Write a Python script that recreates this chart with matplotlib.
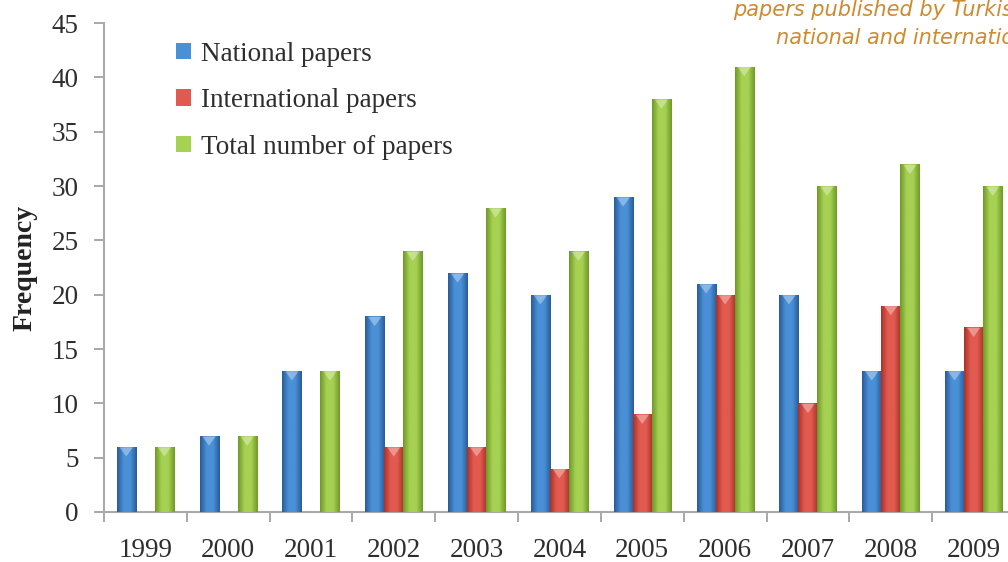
import matplotlib
matplotlib.use("Agg")
import matplotlib.pyplot as plt
from matplotlib.colors import LinearSegmentedColormap
import numpy as np

years = ['1999', '2000', '2001', '2002', '2003', '2004', '2005', '2006', '2007', '2008', '2009']
national = [6, 7, 13, 18, 22, 20, 29, 21, 20, 13, 13]
international = [0, 0, 0, 6, 6, 4, 9, 20, 10, 19, 17]
total = [6, 7, 13, 24, 28, 24, 38, 41, 30, 32, 30]
labels = ['National papers', 'International papers', 'Total number of papers']

# (dark edge, light centre) for the cylinder look
shades = [('#2a5c98', '#4a90d6'), ('#a8322b', '#e25a4f'), ('#6f9828', '#a6d152')]

fig = plt.figure(figsize=(10.08, 5.62), dpi=100)
ax = fig.add_axes([0.103, 0.089, 0.904, 0.87])

x = np.arange(len(years))
w = 0.23
grad = np.linspace(0, 1, 64).reshape(1, -1)
for i, (vals, lab, (dark, light)) in enumerate(zip([national, international, total], labels, shades)):
    bars = ax.bar(x + (i - 1) * w, vals, w, color=light, label=lab, zorder=2)
    cmap = LinearSegmentedColormap.from_list('c%d' % i, [dark, light, light, dark])
    for b in bars:
        if b.get_height() <= 0:
            continue
        x0, h, bw = b.get_x(), b.get_height(), b.get_width()
        im = ax.imshow(grad, cmap=cmap, aspect='auto', extent=[x0, x0 + bw, 0, h], zorder=3)
        im.set_clip_path(b)
        # light cap at the top
        ax.fill([x0 + bw * 0.15, x0 + bw * 0.85, x0 + bw * 0.5],
                [h - 0.05, h - 0.05, h - 0.9], color='white', alpha=0.35, lw=0, zorder=4)

ax.set_xlim(-0.5, len(years) - 0.5)
ax.set_ylim(0, 45)
ax.set_yticks(range(0, 46, 5))
ax.set_xticks(x)
ax.set_xticklabels(years)
ax.set_xticks(np.arange(-0.5, len(years), 1), minor=True)
ax.tick_params(axis='x', which='major', length=0, pad=19)
ax.tick_params(axis='x', which='minor', length=7, color='#999999', width=1.2)
ax.tick_params(axis='y', length=7, color='#999999', width=1.2, pad=11)

serif = 'Liberation Serif'
for t in ax.get_xticklabels() + ax.get_yticklabels():
    t.set_fontfamily(serif)
    t.set_fontsize(19.5)
    t.set_color('#2e2e2e')

for s in ['top', 'right']:
    ax.spines[s].set_visible(False)
for s in ['left', 'bottom']:
    ax.spines[s].set_color('#aaaaaa')
    ax.spines[s].set_linewidth(1.5)

ax.set_ylabel('Frequency', fontfamily=serif, fontsize=20, fontweight='bold', color='#222222', labelpad=10)

leg = ax.legend(loc='upper left', bbox_to_anchor=(0.053, 1.012), frameon=False,
                prop={'family': serif, 'size': 19.5}, labelspacing=0.8,
                handlelength=0.55, handleheight=0.55, handletextpad=0.35)
for t in leg.get_texts():
    t.set_color('#2e2e2e')

fig.text(0.727, 0.982, 'papers published by Turkish researchers in', color='#d08a2e',
         fontsize=15, fontstyle='italic', fontfamily='DejaVu Sans', ha='left', va='center')
fig.text(0.77, 0.932, 'national and international journals', color='#d08a2e',
         fontsize=15, fontstyle='italic', fontfamily='DejaVu Sans', ha='left', va='center')

fig.savefig('out.png', dpi=100)
